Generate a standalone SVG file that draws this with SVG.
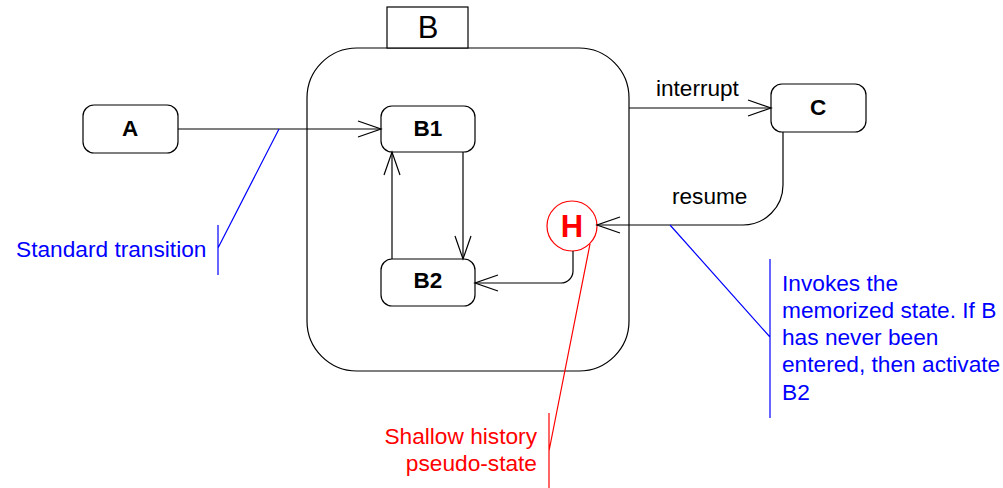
<svg xmlns="http://www.w3.org/2000/svg" width="1003" height="488" viewBox="0 0 1003 488">
<defs>
<style>
.st{fill:#fff;stroke:#000;stroke-width:1.2}
.lbl{font-family:"Liberation Sans",Arial,sans-serif;font-size:22.5px;font-weight:bold;text-anchor:middle;fill:#000}
.tx{font-family:"Liberation Sans",Arial,sans-serif;font-size:22.6px;fill:#000}
.blue{font-family:"Liberation Sans",Arial,sans-serif;font-size:22.7px;fill:#0000ff}
.red{font-family:"Liberation Sans",Arial,sans-serif;font-size:22.7px;fill:#ff0000}
.cn{fill:none;stroke:#000;stroke-width:1.2}
</style>
<marker id="arr" viewBox="0 0 26 18" refX="24" refY="9" markerWidth="26" markerHeight="18" markerUnits="userSpaceOnUse" orient="auto">
<path d="M1,1 L24,9 L1,17" fill="none" stroke="#000" stroke-width="1.2"/>
</marker>
</defs>
<rect width="1003" height="488" fill="#fff"/>
<g id="B">
<rect class="st" x="307" y="48" width="322" height="323" rx="50" ry="50"/>
<rect class="st" x="387" y="7" width="81" height="41" stroke-width="2"/>
<text x="428" y="38" font-family="Liberation Sans, Arial, sans-serif" font-size="31" text-anchor="middle">B</text>
</g>
<g id="A">
<rect class="st" x="83" y="105" width="95" height="48" rx="11"/>
<text class="lbl" x="130" y="136">A</text>
</g>
<g id="B1">
<rect class="st" x="381" y="106" width="94" height="46" rx="11"/>
<text class="lbl" x="428" y="136">B1</text>
</g>
<g id="B2">
<rect class="st" x="381" y="259" width="94" height="47" rx="11"/>
<text class="lbl" x="428" y="288">B2</text>
</g>
<g id="C">
<rect class="st" x="771" y="84" width="95" height="48" rx="11"/>
<text class="lbl" x="818" y="115">C</text>
</g>
<g id="H">
<circle cx="572" cy="226" r="25" fill="#fff" stroke="#ff0000" stroke-width="1.2"/>
<text x="572" y="237" font-family="Liberation Sans, Arial, sans-serif" font-size="31" font-weight="bold" fill="#ff0000" text-anchor="middle">H</text>
</g>
<g id="connectors">
<path class="cn" d="M178,129 L381,129" marker-end="url(#arr)"/>
<path class="cn" d="M463,152 L463,259" marker-end="url(#arr)"/>
<path class="cn" d="M392,259 L392,152" marker-end="url(#arr)"/>
<path class="cn" d="M629,108 L771,108" marker-end="url(#arr)"/>
<path class="cn" d="M783,132 L783,185 A40,40 0 0 1 743,225 L597,225" marker-end="url(#arr)"/>
<path class="cn" d="M573,251 L573,271 A12,12 0 0 1 561,283 L475,283" marker-end="url(#arr)"/>
<text class="tx" x="656" y="96">interrupt</text>
<text class="tx" x="672" y="204">resume</text>
</g>
<g id="note-standard">
<path d="M279,129 L218,248 M218,225 L218,275" fill="none" stroke="#0000ff" stroke-width="1.2"/>
<text class="blue" x="16" y="257">Standard transition</text>
</g>
<g id="note-resume">
<path d="M670,225 L770,337 M770,259 L770,418" fill="none" stroke="#0000ff" stroke-width="1.2"/>
<text class="blue"><tspan x="782" y="291">Invokes the</tspan><tspan x="782" y="318">memorized state. If B</tspan><tspan x="782" y="345">has never been</tspan><tspan x="782" y="372">entered, then activate</tspan><tspan x="782" y="400">B2</tspan></text>
</g>
<g id="note-history">
<path d="M590,244 L549,451 M549,413 L549,488" fill="none" stroke="#ff0000" stroke-width="1.2"/>
<text class="red" text-anchor="end"><tspan x="537" y="444">Shallow history</tspan><tspan x="537" y="471">pseudo-state</tspan></text>
</g>
</svg>
